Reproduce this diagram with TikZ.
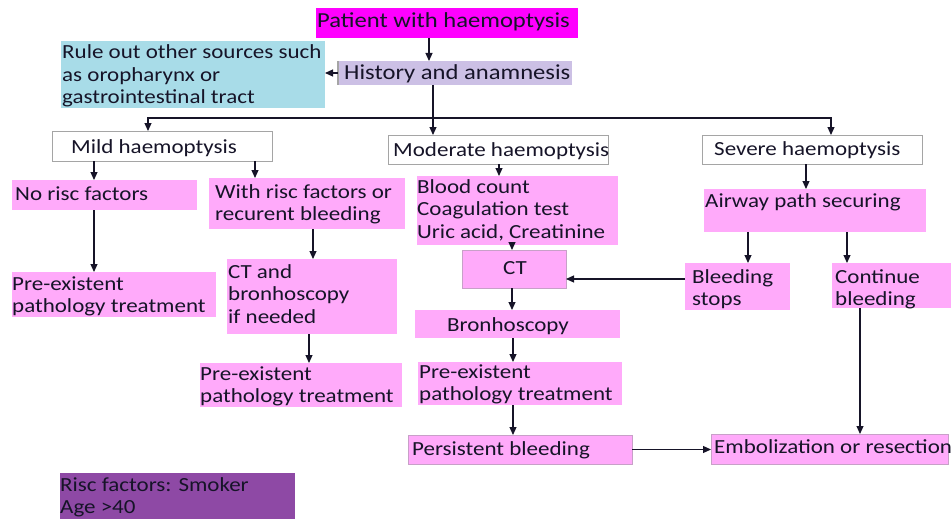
\documentclass[tikz,border=0pt]{standalone}
\usepackage{fontspec}
\setmainfont{Carlito}[FakeStretch=1.15]
\usetikzlibrary{arrows.meta}
\definecolor{ink}{RGB}{22,20,40}
\definecolor{magentafill}{RGB}{255,0,255}
\definecolor{lavender}{RGB}{204,192,229}
\definecolor{skyfill}{RGB}{168,220,232}
\definecolor{pinkfill}{RGB}{255,170,250}
\definecolor{pinkline}{RGB}{200,160,200}
\definecolor{purplefill}{RGB}{142,73,165}
\definecolor{greyline}{RGB}{165,165,165}
% multi-line text whose baseline is the first line
\newcommand{\mlines}[1]{\begin{tabular}[t]{@{}l@{}}#1\end{tabular}}
% empty box from (x1,y1) to (x2,y2)
\newcommand{\bx}[6]{\node[box,#1,minimum width={#5-#3},minimum height={#6-#4}] (#2) at (#3,#4) {};}
\begin{document}
\begin{tikzpicture}[x=1pt,y=-1pt,
  box/.style={anchor=north west, inner sep=0pt, outer sep=0pt},
  pinkbox/.style={fill=pinkfill},
  edgedpink/.style={fill=pinkfill, draw=pinkline, line width=0.8pt},
  whitebox/.style={fill=white, draw=greyline, line width=1pt},
  txt/.style={anchor=base west, inner sep=0pt, text=ink, font=\fontsize{20}{22.5}\selectfont},
  bigtxt/.style={txt, font=\fontsize{21.4}{24}\selectfont},
  arr/.style={draw=ink, line width=1.1pt, -{Triangle[length=8pt,width=7pt]}},
  ln/.style={draw=ink, line width=1.1pt}]
\useasboundingbox (0,0) rectangle (951,519);

% boxes
\bx{fill=magentafill}{patient}{316}{8}{578}{38}
\bx{fill=lavender}{history}{338}{61}{572}{85}
\bx{fill=skyfill}{ruleout}{61}{41}{325}{108}
\bx{whitebox}{mild}{52}{131}{272}{161}
\bx{whitebox}{moderate}{388}{135}{608}{164}
\bx{whitebox}{severe}{702}{135}{922}{164}
\bx{pinkbox}{norisc}{12}{180}{197}{210}
\bx{pinkbox}{withrisc}{209}{178}{405}{229}
\bx{pinkbox}{preA}{12}{272}{216}{317}
\bx{pinkbox}{ctand}{227}{259}{397}{334}
\bx{pinkbox}{preB}{200}{363}{402}{407}
\bx{pinkbox}{blood}{417}{176}{618}{245}
\bx{edgedpink}{ct}{462}{250}{566}{288}
\bx{pinkbox}{bron}{415}{310}{620}{338}
\bx{pinkbox}{preC}{418}{362}{622}{405}
\bx{edgedpink}{persist}{408}{435}{632}{464}
\bx{pinkbox}{airway}{704}{189}{926}{232}
\bx{pinkbox}{stops}{685}{263}{790}{310}
\bx{pinkbox}{cont}{832}{263}{951}{308}
\bx{edgedpink}{embol}{711}{434}{948}{464}
\bx{fill=purplefill}{risc}{60}{473}{295}{519}
\draw[greyline, line width=1.5pt] (history.north west) -- (history.south west);

% texts
\node[bigtxt] (patient-t) at (317,28) {Patient with haemoptysis};
\node[bigtxt] (history-t) at (344,80) {History and anamnesis};
\node[txt] (ruleout-t) at (62,59) {\mlines{Rule out other sources such\\as oropharynx or\\gastrointestinal tract}};
\node[txt] (mild-t) at (71,153) {Mild haemoptysis};
\node[txt] (moderate-t) at (393,156) {Moderate haemoptysis};
\node[txt] (severe-t) at (714,155) {Severe haemoptysis};
\node[txt] (norisc-t) at (15,200) {No risc factors};
\node[txt] (withrisc-t) at (215,198) {\mlines{With risc factors or\\recurent bleeding}};
\node[txt] (preA-t) at (12,290) {\mlines{Pre-existent\\pathology treatment}};
\node[txt] (ctand-t) at (228,278) {\mlines{CT and\\bronhoscopy\\if needed}};
\node[txt] (preB-t) at (200,380) {\mlines{Pre-existent\\pathology treatment}};
\node[txt] (blood-t) at (417,193) {\mlines{Blood count\\Coagulation test\\Uric acid, Creatinine}};
\node[txt] (ct-t) at (503,274) {CT};
\node[txt] (bron-t) at (447,331) {Bronhoscopy};
\node[txt] (preC-t) at (419,378) {\mlines{Pre-existent\\pathology treatment}};
\node[txt] (persist-t) at (412,455) {Persistent bleeding};
\node[txt] (airway-t) at (705,207) {Airway path securing};
\node[txt] (stops-t) at (692,283) {\mlines{Bleeding\\stops}};
\node[txt] (cont-t) at (835,283) {\mlines{Continue\\bleeding}};
\node[txt] (embol-t) at (714,453) {Embolization or resection};
\node[txt] (risc-t) at (60,491) {\mlines{Risc factors: Smoker\\Age >40}};

% connectors
\coordinate (split) at (433,118);
\draw[arr] (429,0 |- patient.south) -- (429,0 |- history.north);
\draw[arr] (history.west) -- (history.west -| ruleout.east);
\draw[ln] (433,0 |- history.south) -- (split);
\draw[arr] (split) -- (433,0 |- moderate.north);
\draw[arr] (split) -| (148,0 |- mild.north);
\draw[arr] (split) -| (831,0 |- severe.north);
\draw[arr] (94,0 |- mild.south) -- (94,0 |- norisc.north);
\draw[arr] (255,0 |- mild.south) -- (255,0 |- withrisc.north);
\draw[arr] (94,0 |- norisc.south) -- (94,0 |- preA.north);
\draw[arr] (313,0 |- withrisc.south) -- (313,0 |- ctand.north);
\draw[arr] (309,0 |- ctand.south) -- (309,0 |- preB.north);
\draw[arr] (499,0 |- moderate.south) -- (499,0 |- blood.north);
\draw[arr] (512,0 |- blood.south) -- (512,0 |- ct.north);
\draw[arr] (512,0 |- ct.south) -- (512,0 |- bron.north);
\draw[arr] (513,0 |- bron.south) -- (513,0 |- preC.north);
\draw[arr] (513,0 |- preC.south) -- (513,0 |- persist.north);
\draw[arr] (persist.east) -- (persist.east -| embol.west);
\draw[arr] (806,0 |- severe.south) -- (806,0 |- airway.north);
\draw[arr] (748,0 |- airway.south) -- (748,0 |- stops.north);
\draw[arr] (847,0 |- airway.south) -- (847,0 |- cont.north);
\draw[arr] (stops.west |- 0,279) -- (ct.east |- 0,279);
\draw[arr] (860,0 |- cont.south) -- (860,0 |- embol.north);
\end{tikzpicture}
\end{document}
